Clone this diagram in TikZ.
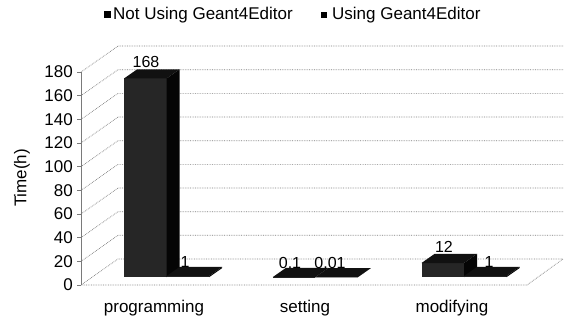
\documentclass[tikz,border=0pt]{standalone}
\usepackage{fontspec}
\setmainfont{Liberation Sans}
\usetikzlibrary{calc, positioning}
\definecolor{gtGrid}{HTML}{7A7A7A}
\definecolor{gtFront}{HTML}{262626}
\definecolor{gtTop}{HTML}{111111}
\definecolor{gtSide}{HTML}{050505}
\tikzset{
  gridline/.style = {gtGrid, densely dotted, line width=0.7pt},
  axisline/.style = {gtGrid, line width=0.7pt},
  barfront/.style = {fill=gtFront},
  bartop/.style   = {fill=gtTop},
  barside/.style  = {fill=gtSide},
  lbl/.style      = {font=\fontsize{17}{19}\selectfont, inner sep=0pt},
  vlbl/.style     = {font=\fontsize{16}{18}\selectfont, inner sep=0pt},
  keybox/.style   = {fill=black, minimum size=7pt, inner sep=0pt},
}

\begin{document}
\begin{tikzpicture}[x=1pt, y=1pt]
  \useasboundingbox (0,0) rectangle (566,324);

  % floor
  \coordinate (f0) at (81,39);
  \coordinate (f1) at (527,39);
  \coordinate (b0) at (118,65);
  \coordinate (b1) at (563,65);
  \draw[gridline] (f0) -- (f1) -- (b1) -- (b0) -- cycle;

  % walls and value axis
  \draw[axisline] (f0) -- (81,252);
  \foreach \v in {20,40,...,180} {
    \pgfmathsetmacro\yy{39+1.183*\v}
    \draw[gridline] (81,\yy) -- ++(37,26) -- (563,\yy+26);
  }
  \foreach \v in {0,20,...,180} {
    \pgfmathsetmacro\yy{39+1.183*\v}
    \draw[axisline] (77,\yy) -- (81,\yy);
    \node[lbl, anchor=east] (y\v) at (73,\yy) {\v};
  }
  \node[lbl, rotate=90] (ytitle) at (22,146) {Time(h)};

  % bars: left edge / value
  \foreach \bx/\bv in {32/168, 74.5/1, 180.7/0.1, 223.2/0.01, 329.4/12, 371.9/1} {
    \pgfmathsetmacro\xa{81+\bx+11.1}
    \pgfmathsetmacro\xb{\xa+42.5}
    \pgfmathsetmacro\yb{46.8+1.183*\bv}
    \fill[barfront] (\xa,46.8) rectangle (\xb,\yb);
    \fill[bartop] (\xa,\yb) -- ++(13,9.1) -- ++(42.5,0) -- (\xb,\yb) -- cycle;
    \fill[barside] (\xb,46.8) -- ++(13,9.1) -- ++(0,\yb-46.8) -- (\xb,\yb) -- cycle;
  }

  % value labels
  \node[vlbl] (v1) at (146,262) {168};
  \node[vlbl] (v2) at (185,62) {1};
  \node[vlbl] (v3) at (290,61) {0.1};
  \node[vlbl] (v4) at (330,61) {0.01};
  \node[vlbl] (v5) at (444,77) {12};
  \node[vlbl] (v6) at (489,62) {1};

  % categories
  \node[lbl, anchor=base] (c1) at (154,11) {programming};
  \node[lbl, anchor=base] (c2) at (305,11) {setting};
  \node[lbl, anchor=base] (c3) at (452,11) {modifying};

  % legend
  \node[keybox] (k1) at (107,309) {};
  \node[lbl, anchor=west] (t1) at (113,309) {Not Using Geant4Editor};
  \node[keybox, minimum size=6pt] (k2) at (324,309) {};
  \node[lbl, anchor=west] (t2) at (332,309) {Using Geant4Editor};
\end{tikzpicture}
\end{document}
